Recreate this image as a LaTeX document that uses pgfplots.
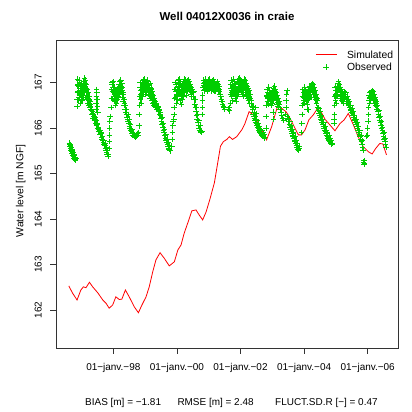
\documentclass[border=0pt]{standalone}
\usepackage{fontspec}
\setmainfont{Liberation Sans}
\usepackage{pgfplots}
\pgfplotsset{compat=1.18}
\definecolor{rgreen}{HTML}{00CD00}
\definecolor{rred}{HTML}{FF0000}
\pgfplotsset{
  obsimg/.style={legend image code/.code={\draw[mark repeat=2,mark phase=2,##1] plot coordinates {(0bp,0bp) (10.35bp,0bp) (20.7bp,0bp)};}},
  simimg/.style={legend image code/.code={\draw[##1] (0bp,0bp) -- (20.7bp,0bp);}},
  obs/.style={only marks, mark=+, mark size=2.8bp, rgreen, line width=0.7bp},
}
\begin{document}
\begin{tikzpicture}
\useasboundingbox (0,0) rectangle (412bp,412bp);
\begin{axis}[
  at={(56bp,64bp)}, anchor=south west,
  width=342bp, height=307.3bp, scale only axis,
  xmin=1996.198, xmax=2006.953, ymin=161.165, ymax=167.92,
  axis line style={line width=0.75bp, black!80},
  tick style={line width=0.75bp, black!80},
  tick align=outside, major tick length=6bp,
  xtick pos=left, ytick pos=left,
  xtick={1998,2000,2002,2004,2006},
  xticklabels={01−janv.−98,01−janv.−00,01−janv.−02,01−janv.−04,01−janv.−06},
  ytick={162,163,164,165,166,167},
  /pgf/number format/assume math mode=true,
  xticklabel style={font=\fontsize{10}{12}\selectfont, anchor=center, inner sep=0pt, yshift=-14bp},
  yticklabel style={font=\fontsize{10}{12}\selectfont, xshift=-8.1bp, rotate=90, anchor=south, inner sep=0pt},
  ylabel={Water level [m NGF]},
  every axis y label/.style={at={(axis description cs:-0.1032,0.511)}, rotate=90, anchor=center, font=\fontsize{10.3}{12}\selectfont},
  title={Well 04012X0036 in craie},
  every axis title/.style={at={(axis description cs:0.5,1.078)}, anchor=center, font=\bfseries\fontsize{11.5}{13}\selectfont},
  legend style={at={(axis description cs:0.9863,0.9684)}, anchor=north east, draw=none, fill=none,
    inner sep=0pt, row sep=5.3bp, column sep=10bp, font=\fontsize{10.4}{12}\selectfont,
    nodes={inner sep=0pt, text height=7.4bp, text depth=0pt}},
  legend cell align=left,
  reverse legend,
  clip=true,
]
\addplot[obs, obsimg]
  table[row sep=\\] {
x y\\
1996.62 165.67\\ 1996.63 165.60\\ 1996.64 165.64\\ 1996.65 165.56\\ 1996.66 165.61\\ 1996.67 165.52\\ 1996.68 165.57\\
1996.69 165.48\\ 1996.70 165.54\\ 1996.71 165.44\\ 1996.72 165.50\\ 1996.73 165.41\\ 1996.74 165.46\\ 1996.75 165.37\\
1996.76 165.43\\ 1996.77 165.34\\ 1996.78 165.40\\ 1996.79 165.32\\ 1996.80 165.36\\ 1996.81 165.30\\ 1996.82 165.33\\
1996.86 166.47\\ 1996.865 166.62\\ 1996.87 166.78\\ 1996.875 166.93\\ 1996.88 167.08\\
1996.89 166.95\\ 1996.905 166.62\\ 1996.92 167.05\\ 1996.935 166.75\\ 1996.95 166.88\\ 1996.965 166.55\\ 1996.98 166.98\\
1996.995 166.70\\ 1997.01 166.82\\ 1997.025 166.60\\ 1997.04 166.92\\ 1997.055 166.68\\ 1997.07 167.02\\ 1997.085 166.78\\
1997.10 167.10\\ 1997.115 166.85\\ 1997.13 167.05\\ 1997.145 166.72\\ 1997.16 166.95\\ 1997.175 166.62\\ 1997.19 166.85\\
1997.205 166.55\\ 1997.22 166.78\\ 1997.235 166.50\\ 1997.25 166.70\\ 1997.265 166.45\\ 1997.28 166.58\\ 1997.295 166.40\\
1997.31 166.38\\ 1997.33 166.30\\ 1997.35 166.33\\ 1997.37 166.22\\ 1997.39 166.26\\ 1997.41 166.16\\ 1997.43 166.20\\
1997.46 166.40\\ 1997.465 166.55\\ 1997.47 166.70\\ 1997.475 166.85\\ 1997.48 166.78\\ 1997.49 166.62\\ 1997.50 166.48\\ 1997.51 166.35\\
1997.45 166.10\\ 1997.47 166.05\\ 1997.49 166.08\\ 1997.51 166.00\\ 1997.53 165.97\\ 1997.55 165.92\\ 1997.57 165.95\\
1997.59 165.86\\ 1997.61 165.88\\ 1997.63 165.80\\ 1997.65 165.76\\ 1997.67 165.72\\ 1997.69 165.68\\ 1997.71 165.64\\
1997.73 165.62\\ 1997.75 165.55\\ 1997.77 165.52\\ 1997.79 165.46\\ 1997.81 165.42\\ 1997.83 165.38\\ 1997.85 165.42\\
1997.87 165.55\\ 1997.875 165.70\\ 1997.88 165.85\\ 1997.885 166.00\\ 1997.89 166.15\\ 1997.895 166.25\\
1997.93 166.45\\ 1997.94 166.65\\ 1997.95 166.85\\ 1997.955 167.00\\
1997.965 166.95\\ 1997.98 166.65\\ 1997.995 167.02\\ 1998.01 166.78\\ 1998.025 166.90\\ 1998.04 166.58\\ 1998.055 166.82\\
1998.07 166.50\\ 1998.085 166.72\\ 1998.10 166.55\\ 1998.115 166.80\\ 1998.13 166.62\\ 1998.145 166.88\\ 1998.16 166.70\\
1998.175 166.95\\ 1998.19 166.75\\ 1998.205 167.02\\ 1998.22 166.82\\ 1998.235 167.05\\ 1998.25 166.78\\ 1998.265 166.98\\
1998.28 166.68\\ 1998.295 166.90\\ 1998.31 166.58\\ 1998.325 166.78\\ 1998.34 166.50\\ 1998.355 166.62\\
1998.37 166.42\\ 1998.39 166.35\\ 1998.41 166.30\\ 1998.43 166.24\\ 1998.45 166.20\\ 1998.47 166.14\\ 1998.49 166.10\\
1998.51 166.04\\ 1998.53 166.00\\ 1998.55 165.95\\ 1998.57 165.92\\ 1998.59 165.88\\
1998.61 165.84\\ 1998.63 165.88\\ 1998.65 165.82\\ 1998.67 165.86\\ 1998.69 165.80\\ 1998.71 165.85\\ 1998.73 165.82\\
1998.75 165.88\\ 1998.77 165.84\\ 1998.79 165.90\\
1998.81 166.05\\ 1998.815 166.30\\ 1998.82 166.50\\ 1998.83 166.70\\ 1998.835 166.90\\
1998.845 167.00\\ 1998.86 166.62\\ 1998.875 166.90\\ 1998.89 166.55\\ 1998.905 166.85\\ 1998.92 166.70\\ 1998.935 167.05\\
1998.95 166.80\\ 1998.965 167.08\\ 1998.98 166.88\\ 1998.995 167.02\\ 1999.01 166.75\\ 1999.025 166.98\\ 1999.04 166.82\\
1999.055 167.05\\ 1999.07 166.90\\ 1999.085 167.02\\ 1999.10 166.78\\ 1999.115 166.95\\ 1999.13 166.72\\ 1999.145 166.90\\
1999.16 166.65\\ 1999.175 166.98\\ 1999.19 166.70\\ 1999.205 166.88\\ 1999.22 166.60\\ 1999.235 166.80\\ 1999.25 166.55\\
1999.265 166.72\\ 1999.28 166.50\\ 1999.295 166.65\\ 1999.31 166.48\\ 1999.325 166.58\\ 1999.34 166.45\\
1999.36 166.50\\ 1999.38 166.42\\ 1999.40 166.45\\ 1999.42 166.36\\ 1999.44 166.38\\ 1999.46 166.30\\ 1999.48 166.28\\
1999.50 166.22\\ 1999.52 166.15\\ 1999.54 166.08\\ 1999.56 166.02\\ 1999.58 165.95\\ 1999.60 165.90\\ 1999.62 165.84\\
1999.64 165.78\\ 1999.66 165.74\\ 1999.68 165.68\\ 1999.70 165.64\\ 1999.72 165.60\\ 1999.74 165.56\\ 1999.76 165.54\\
1999.78 165.51\\ 1999.80 165.50\\
1999.84 165.60\\ 1999.85 165.75\\ 1999.86 165.90\\ 1999.87 166.05\\ 1999.875 166.15\\
1999.90 166.20\\ 1999.91 166.30\\ 1999.915 166.45\\ 1999.92 166.65\\ 1999.93 166.85\\
1999.945 167.00\\ 1999.96 166.68\\ 1999.975 166.95\\ 1999.99 166.55\\ 2000.005 166.85\\ 2000.02 166.62\\ 2000.035 167.05\\
2000.05 166.75\\ 2000.065 167.08\\ 2000.08 166.82\\ 2000.095 166.98\\ 2000.11 166.60\\ 2000.125 166.90\\ 2000.14 166.52\\
2000.155 166.80\\ 2000.17 166.62\\ 2000.185 166.95\\ 2000.20 166.70\\ 2000.215 167.02\\ 2000.23 166.78\\ 2000.245 167.08\\
2000.26 166.85\\ 2000.275 167.05\\ 2000.29 166.72\\ 2000.305 166.98\\ 2000.32 166.80\\ 2000.335 167.04\\ 2000.35 166.88\\
2000.365 167.06\\ 2000.38 166.90\\ 2000.395 167.02\\ 2000.41 166.82\\ 2000.425 166.95\\ 2000.44 166.75\\ 2000.455 166.90\\
2000.47 166.70\\ 2000.485 166.85\\
2000.50 166.78\\ 2000.52 166.70\\ 2000.54 166.62\\ 2000.56 166.52\\ 2000.58 166.45\\ 2000.60 166.36\\ 2000.62 166.28\\
2000.64 166.20\\ 2000.66 166.12\\ 2000.68 166.06\\ 2000.70 166.00\\ 2000.72 165.95\\ 2000.74 165.92\\ 2000.76 165.90\\ 2000.78 165.93\\
2000.80 166.30\\ 2000.80 166.45\\ 2000.805 166.60\\ 2000.81 166.72\\
2000.83 166.90\\ 2000.845 167.05\\ 2000.86 166.82\\ 2000.875 167.00\\ 2000.89 166.85\\ 2000.905 167.08\\ 2000.92 166.90\\
2000.935 167.02\\ 2000.95 166.80\\ 2000.965 166.98\\ 2000.98 166.85\\ 2000.995 167.05\\ 2001.01 166.88\\ 2001.025 167.08\\
2001.04 166.92\\ 2001.055 167.00\\ 2001.07 166.82\\ 2001.085 166.98\\ 2001.10 166.86\\ 2001.115 167.04\\ 2001.13 166.90\\
2001.145 167.06\\ 2001.16 166.84\\ 2001.175 167.00\\ 2001.19 166.80\\ 2001.205 166.95\\ 2001.22 166.82\\ 2001.235 166.98\\
2001.25 166.85\\ 2001.265 167.02\\ 2001.28 166.88\\ 2001.295 166.96\\ 2001.31 166.82\\ 2001.325 166.92\\ 2001.34 166.80\\
2001.36 166.75\\ 2001.38 166.70\\ 2001.40 166.62\\ 2001.42 166.58\\ 2001.44 166.52\\ 2001.46 166.48\\ 2001.48 166.45\\ 2001.50 166.42\\
2001.62 166.42\\ 2001.64 166.45\\ 2001.66 166.38\\
2001.68 166.55\\ 2001.685 166.75\\ 2001.69 166.95\\
2001.70 167.05\\ 2001.715 166.70\\ 2001.73 166.95\\ 2001.745 166.60\\ 2001.76 166.88\\ 2001.775 166.75\\ 2001.79 167.08\\
2001.805 166.82\\ 2001.82 167.02\\ 2001.835 166.65\\ 2001.85 166.92\\ 2001.865 166.58\\ 2001.88 166.85\\ 2001.895 166.70\\
2001.91 167.00\\ 2001.925 166.78\\ 2001.94 167.08\\ 2001.955 166.88\\ 2001.97 167.10\\ 2001.985 166.92\\ 2002.00 167.05\\
2002.015 166.80\\ 2002.03 167.02\\ 2002.045 166.75\\ 2002.06 166.98\\ 2002.075 166.70\\ 2002.09 166.95\\ 2002.105 166.82\\
2002.12 167.08\\ 2002.135 166.90\\ 2002.15 167.05\\ 2002.165 166.78\\ 2002.18 166.98\\ 2002.195 166.72\\ 2002.21 166.92\\
2002.225 166.65\\ 2002.24 166.88\\ 2002.255 166.60\\ 2002.27 166.82\\ 2002.285 166.55\\ 2002.30 166.75\\
2002.32 166.65\\ 2002.34 166.55\\ 2002.36 166.48\\ 2002.38 166.40\\ 2002.40 166.30\\ 2002.42 166.25\\ 2002.44 166.22\\
2002.46 166.18\\ 2002.48 166.12\\ 2002.50 166.10\\ 2002.52 166.06\\ 2002.54 166.02\\ 2002.56 166.00\\ 2002.58 165.96\\
2002.60 165.92\\ 2002.62 165.90\\ 2002.64 165.88\\ 2002.66 165.86\\ 2002.68 165.84\\ 2002.70 165.82\\ 2002.72 165.84\\
2002.74 165.80\\ 2002.76 165.78\\
2002.48 166.45\\ 2002.485 166.32\\ 2002.49 166.20\\
2002.80 166.00\\ 2002.805 166.25\\ 2002.81 166.50\\ 2002.82 166.70\\
2002.83 166.85\\ 2002.845 166.58\\ 2002.86 166.78\\ 2002.875 166.52\\ 2002.89 166.90\\ 2002.905 166.65\\ 2002.92 166.82\\
2002.935 166.55\\ 2002.95 166.75\\ 2002.965 166.50\\ 2002.98 166.70\\ 2002.995 166.55\\ 2003.01 166.80\\ 2003.025 166.62\\
2003.04 166.88\\ 2003.055 166.70\\ 2003.07 166.92\\ 2003.085 166.68\\ 2003.10 166.85\\ 2003.115 166.60\\ 2003.13 166.78\\
2003.145 166.52\\ 2003.16 166.72\\ 2003.175 166.48\\ 2003.19 166.65\\ 2003.205 166.45\\ 2003.22 166.58\\
2003.03 166.35\\ 2003.035 166.20\\
2003.24 166.42\\ 2003.27 166.35\\ 2003.30 166.28\\ 2003.33 166.22\\ 2003.36 166.18\\
2003.42 166.30\\ 2003.43 166.45\\ 2003.44 166.60\\ 2003.45 166.75\\ 2003.46 166.82\\
2003.48 166.25\\ 2003.50 166.20\\ 2003.52 166.14\\ 2003.54 166.08\\ 2003.56 166.02\\ 2003.58 165.97\\ 2003.60 165.93\\
2003.62 165.89\\ 2003.64 165.85\\ 2003.66 165.81\\ 2003.68 165.77\\ 2003.70 165.73\\ 2003.72 165.70\\ 2003.74 165.66\\
2003.76 165.62\\ 2003.78 165.58\\ 2003.80 165.54\\ 2003.82 165.52\\ 2003.84 165.56\\ 2003.86 165.60\\
2003.92 165.90\\ 2003.925 166.10\\ 2003.93 166.30\\ 2003.94 166.50\\ 2003.95 166.70\\
2003.96 166.85\\ 2003.975 166.55\\ 2003.99 166.78\\ 2004.005 166.60\\ 2004.02 166.90\\ 2004.035 166.68\\ 2004.05 166.82\\
2004.065 166.58\\ 2004.08 166.75\\ 2004.095 166.52\\ 2004.11 166.70\\ 2004.125 166.62\\ 2004.14 166.85\\ 2004.155 166.70\\
2004.17 166.92\\ 2004.185 166.75\\ 2004.20 166.88\\ 2004.215 166.68\\ 2004.23 166.95\\ 2004.245 166.80\\ 2004.26 166.98\\
2004.275 166.82\\ 2004.29 166.96\\ 2004.305 166.75\\ 2004.32 166.90\\ 2004.335 166.68\\ 2004.35 166.82\\ 2004.365 166.62\\
2004.38 166.75\\ 2004.395 166.55\\ 2004.41 166.65\\
2004.10 166.42\\ 2004.12 166.40\\
2004.43 166.45\\ 2004.45 166.38\\ 2004.47 166.33\\ 2004.49 166.28\\ 2004.51 166.24\\ 2004.53 166.20\\ 2004.55 166.16\\
2004.57 166.12\\ 2004.59 166.08\\ 2004.61 166.04\\ 2004.63 166.00\\ 2004.65 165.96\\ 2004.67 165.92\\ 2004.69 165.88\\
2004.71 165.85\\ 2004.73 165.82\\ 2004.75 165.78\\ 2004.77 165.76\\ 2004.79 165.73\\ 2004.81 165.70\\ 2004.83 165.68\\
2004.85 165.66\\ 2004.87 165.64\\ 2004.89 165.66\\
2004.94 166.20\\ 2004.945 166.10\\ 2004.95 166.30\\ 2004.96 166.50\\ 2004.965 166.70\\
2004.975 166.90\\ 2004.99 166.60\\ 2005.005 166.82\\ 2005.02 166.55\\ 2005.035 166.92\\ 2005.05 166.70\\ 2005.065 166.98\\
2005.08 167.02\\ 2005.095 166.85\\ 2005.11 166.95\\ 2005.125 166.72\\ 2005.14 166.90\\ 2005.155 166.65\\ 2005.17 166.85\\
2005.185 166.60\\ 2005.20 166.80\\ 2005.215 166.58\\ 2005.23 166.75\\ 2005.245 166.55\\
2005.26 166.80\\ 2005.28 166.74\\ 2005.30 166.70\\ 2005.32 166.65\\ 2005.34 166.62\\ 2005.36 166.58\\ 2005.38 166.55\\
2005.40 166.52\\ 2005.42 166.50\\ 2005.44 166.46\\ 2005.46 166.42\\ 2005.48 166.38\\ 2005.50 166.35\\ 2005.52 166.32\\
2005.54 166.28\\ 2005.56 166.24\\ 2005.58 166.20\\ 2005.60 166.16\\ 2005.62 166.12\\ 2005.64 166.08\\ 2005.66 166.04\\
2005.68 166.00\\ 2005.70 165.95\\ 2005.72 165.90\\ 2005.74 165.86\\ 2005.76 165.81\\ 2005.78 165.76\\ 2005.80 165.70\\
2005.82 165.64\\ 2005.84 165.58\\ 2005.86 165.52\\
2005.87 165.25\\ 2005.88 165.20\\ 2005.89 165.28\\ 2005.90 165.22\\
2005.96 165.82\\
2005.99 165.85\\ 2006.00 166.00\\ 2006.01 166.15\\ 2006.02 166.30\\ 2006.03 166.45\\ 2006.04 166.60\\
2006.05 166.72\\ 2006.065 166.55\\ 2006.08 166.78\\ 2006.095 166.60\\ 2006.11 166.80\\ 2006.125 166.65\\ 2006.14 166.82\\
2006.155 166.70\\ 2006.17 166.80\\ 2006.185 166.62\\ 2006.20 166.75\\ 2006.215 166.55\\ 2006.23 166.68\\ 2006.245 166.50\\ 2006.26 166.58\\
2006.28 166.48\\ 2006.30 166.42\\ 2006.32 166.36\\ 2006.34 166.30\\ 2006.36 166.24\\ 2006.38 166.18\\ 2006.40 166.12\\
2006.42 166.06\\ 2006.44 166.00\\ 2006.46 165.94\\ 2006.48 165.88\\ 2006.50 165.82\\ 2006.52 165.76\\ 2006.54 165.70\\
2006.56 165.64\\ 2006.58 165.58\\
};
\addlegendentry{Observed}
\addplot[obs, forget plot]
  table[row sep=\\] {
x y\\
1996.8975 166.80\\ 1996.9125 166.92\\ 1996.9275 166.68\\ 1996.9425 167.00\\ 1996.9575 166.72\\ 1996.9725 166.82\\ 1996.9875 166.60\\
1997.0025 166.95\\ 1997.0175 166.72\\ 1997.0325 166.85\\ 1997.0475 166.78\\ 1997.0625 166.90\\ 1997.0775 166.92\\ 1997.0925 166.95\\
1997.1075 166.98\\ 1997.1225 166.92\\ 1997.1375 166.88\\ 1997.1525 166.82\\ 1997.1675 166.78\\ 1997.1825 166.72\\ 1997.1975 166.70\\
1997.2125 166.65\\ 1997.2275 166.62\\ 1997.2425 166.60\\ 1997.2575 166.55\\ 1997.2725 166.52\\ 1997.2875 166.48\\
1997.9725 166.80\\ 1997.9875 166.90\\ 1998.0025 166.85\\ 1998.0175 166.65\\ 1998.0325 166.75\\ 1998.0475 166.70\\ 1998.0625 166.62\\
1998.0775 166.60\\ 1998.0925 166.65\\ 1998.1075 166.68\\ 1998.1225 166.70\\ 1998.1375 166.75\\ 1998.1525 166.80\\ 1998.1675 166.85\\
1998.1825 166.88\\ 1998.1975 166.90\\ 1998.2125 166.92\\ 1998.2275 166.95\\ 1998.2425 166.92\\ 1998.2575 166.88\\ 1998.2725 166.82\\
1998.2875 166.78\\ 1998.3025 166.75\\ 1998.3175 166.68\\ 1998.3325 166.62\\ 1998.3475 166.55\\
1998.8525 166.82\\ 1998.8675 166.75\\ 1998.8825 166.72\\ 1998.8975 166.70\\ 1998.9125 166.78\\ 1998.9275 166.88\\ 1998.9425 166.92\\
1998.9575 166.95\\ 1998.9725 166.98\\ 1998.9875 166.95\\ 1999.0025 166.90\\ 1999.0175 166.88\\ 1999.0325 166.92\\ 1999.0475 166.95\\
1999.0625 166.98\\ 1999.0775 166.96\\ 1999.0925 166.90\\ 1999.1075 166.86\\ 1999.1225 166.84\\ 1999.1375 166.80\\ 1999.1525 166.78\\
1999.1675 166.82\\ 1999.1825 166.84\\ 1999.1975 166.78\\ 1999.2125 166.74\\ 1999.2275 166.70\\ 1999.2425 166.66\\ 1999.2575 166.62\\
1999.2725 166.60\\ 1999.2875 166.56\\ 1999.3025 166.55\\ 1999.3175 166.52\\ 1999.3325 166.50\\
1999.9525 166.85\\ 1999.9675 166.80\\ 1999.9825 166.75\\ 1999.9975 166.70\\ 2000.0125 166.72\\ 2000.0275 166.85\\ 2000.0425 166.92\\
2000.0575 166.95\\ 2000.0725 166.96\\ 2000.0875 166.90\\ 2000.1025 166.80\\ 2000.1175 166.75\\ 2000.1325 166.70\\ 2000.1475 166.66\\
2000.1625 166.70\\ 2000.1775 166.80\\ 2000.1925 166.85\\ 2000.2075 166.88\\ 2000.2225 166.92\\ 2000.2375 166.95\\ 2000.2525 166.98\\
2000.2675 166.95\\ 2000.2825 166.90\\ 2000.2975 166.85\\ 2000.3125 166.90\\ 2000.3275 166.94\\ 2000.3425 166.96\\ 2000.3575 166.98\\
2000.3725 166.96\\ 2000.3875 166.95\\ 2000.4025 166.92\\ 2000.4175 166.88\\ 2000.4325 166.85\\ 2000.4475 166.82\\ 2000.4625 166.80\\ 2000.4775 166.78\\
2000.8375 166.98\\ 2000.8525 166.94\\ 2000.8675 166.92\\ 2000.8825 166.94\\ 2000.8975 166.96\\ 2000.9125 166.98\\ 2000.9275 166.95\\
2000.9425 166.92\\ 2000.9575 166.90\\ 2000.9725 166.92\\ 2000.9875 166.95\\ 2001.0025 166.98\\ 2001.0175 166.98\\ 2001.0325 167.00\\
2001.0475 166.96\\ 2001.0625 166.92\\ 2001.0775 166.90\\ 2001.0925 166.92\\ 2001.1075 166.95\\ 2001.1225 166.98\\ 2001.1375 166.98\\
2001.1525 166.95\\ 2001.1675 166.92\\ 2001.1825 166.90\\ 2001.1975 166.88\\ 2001.2125 166.90\\ 2001.2275 166.92\\ 2001.2425 166.93\\
2001.2575 166.94\\ 2001.2725 166.95\\ 2001.2875 166.92\\ 2001.3025 166.88\\ 2001.3175 166.86\\ 2001.3325 166.84\\
2001.7075 166.88\\ 2001.7225 166.82\\ 2001.7375 166.78\\ 2001.7525 166.74\\ 2001.7675 166.82\\ 2001.7825 166.92\\ 2001.7975 166.95\\
2001.8125 166.92\\ 2001.8275 166.85\\ 2001.8425 166.78\\ 2001.8575 166.75\\ 2001.8725 166.72\\ 2001.8875 166.78\\ 2001.9025 166.85\\
2001.9175 166.90\\ 2001.9325 166.92\\ 2001.9475 166.98\\ 2001.9625 167.00\\ 2001.9775 167.02\\ 2001.9925 166.98\\ 2002.0075 166.92\\
2002.0225 166.90\\ 2002.0375 166.88\\ 2002.0525 166.85\\ 2002.0675 166.84\\ 2002.0825 166.82\\ 2002.0975 166.88\\ 2002.1125 166.95\\
2002.1275 166.98\\ 2002.1425 166.96\\ 2002.1575 166.92\\ 2002.1725 166.88\\ 2002.1875 166.85\\ 2002.2025 166.82\\ 2002.2175 166.78\\
2002.2325 166.75\\ 2002.2475 166.74\\ 2002.2625 166.70\\ 2002.2775 166.68\\ 2002.2925 166.65\\
2002.8375 166.72\\ 2002.8525 166.68\\ 2002.8675 166.65\\ 2002.8825 166.72\\ 2002.8975 166.78\\ 2002.9125 166.74\\ 2002.9275 166.68\\
2002.9425 166.65\\ 2002.9575 166.62\\ 2002.9725 166.60\\ 2002.9875 166.62\\ 2003.0025 166.68\\ 2003.0175 166.72\\ 2003.0325 166.75\\
2003.0475 166.80\\ 2003.0625 166.82\\ 2003.0775 166.80\\ 2003.0925 166.76\\ 2003.1075 166.72\\ 2003.1225 166.70\\ 2003.1375 166.65\\
2003.1525 166.62\\ 2003.1675 166.60\\ 2003.1825 166.56\\ 2003.1975 166.54\\ 2003.2125 166.52\\
2003.9675 166.70\\ 2003.9825 166.68\\ 2003.9975 166.70\\ 2004.0125 166.75\\ 2004.0275 166.80\\ 2004.0425 166.75\\ 2004.0575 166.70\\
2004.0725 166.66\\ 2004.0875 166.64\\ 2004.1025 166.60\\ 2004.1175 166.66\\ 2004.1325 166.74\\ 2004.1475 166.78\\ 2004.1625 166.82\\
2004.1775 166.85\\ 2004.1925 166.82\\ 2004.2075 166.80\\ 2004.2225 166.84\\ 2004.2375 166.88\\ 2004.2525 166.90\\ 2004.2675 166.90\\
2004.2825 166.88\\ 2004.2975 166.85\\ 2004.3125 166.82\\ 2004.3275 166.78\\ 2004.3425 166.75\\ 2004.3575 166.72\\ 2004.3725 166.68\\
2004.3875 166.65\\ 2004.4025 166.60\\
2004.9825 166.75\\ 2004.9975 166.72\\ 2005.0125 166.70\\ 2005.0275 166.75\\ 2005.0425 166.82\\ 2005.0575 166.85\\ 2005.0725 166.90\\
2005.0875 166.92\\ 2005.1025 166.90\\ 2005.1175 166.84\\ 2005.1325 166.80\\ 2005.1475 166.78\\ 2005.1625 166.75\\ 2005.1775 166.72\\
2005.1925 166.70\\ 2005.2075 166.68\\ 2005.2225 166.66\\ 2005.2375 166.64\\
2006.0575 166.65\\ 2006.0725 166.68\\ 2006.0875 166.70\\ 2006.1025 166.72\\ 2006.1175 166.74\\ 2006.1325 166.75\\ 2006.1475 166.76\\
2006.1625 166.74\\ 2006.1775 166.70\\ 2006.1925 166.68\\ 2006.2075 166.65\\ 2006.2225 166.62\\ 2006.2375 166.60\\ 2006.2525 166.55\\
1997.34 166.36\\ 1997.38 166.30\\ 1997.42 166.24\\ 1997.46 166.16\\ 1997.50 166.10\\ 1997.54 166.02\\ 1997.58 165.96\\
1997.62 165.90\\ 1997.66 165.82\\ 1997.70 165.74\\ 1997.74 165.66\\ 1997.78 165.58\\ 1997.82 165.50\\
1998.38 166.50\\ 1998.42 166.40\\ 1998.46 166.30\\ 1998.50 166.20\\ 1998.54 166.08\\ 1998.58 165.98\\
1999.41 166.48\\ 1999.45 166.42\\ 1999.49 166.34\\ 1999.53 166.24\\ 1999.57 166.10\\ 1999.61 165.98\\ 1999.65 165.86\\
1999.69 165.76\\ 1999.73 165.68\\ 1999.77 165.62\\
2000.53 166.80\\ 2000.57 166.62\\ 2000.61 166.46\\ 2000.65 166.30\\ 2000.69 166.16\\ 2000.73 166.05\\
2002.35 166.60\\ 2002.39 166.46\\ 2002.43 166.34\\ 2002.47 166.26\\ 2002.51 166.18\\ 2002.55 166.10\\ 2002.59 166.04\\
2002.63 165.98\\ 2002.67 165.94\\ 2002.71 165.90\\ 2002.75 165.86\\
2003.51 166.22\\ 2003.55 166.14\\ 2003.59 166.06\\ 2003.63 165.98\\ 2003.67 165.90\\ 2003.71 165.82\\ 2003.75 165.74\\ 2003.79 165.66\\
2004.46 166.44\\ 2004.50 166.36\\ 2004.54 166.28\\ 2004.58 166.20\\ 2004.62 166.12\\ 2004.66 166.04\\ 2004.70 165.96\\
2004.74 165.90\\ 2004.78 165.84\\ 2004.82 165.78\\ 2004.86 165.72\\
2005.31 166.78\\ 2005.35 166.70\\ 2005.39 166.64\\ 2005.43 166.58\\ 2005.47 166.50\\ 2005.51 166.44\\ 2005.55 166.36\\
2005.59 166.28\\ 2005.63 166.20\\ 2005.67 166.12\\ 2005.71 166.04\\ 2005.75 165.94\\ 2005.79 165.84\\ 2005.83 165.72\\
2006.31 166.50\\ 2006.35 166.38\\ 2006.39 166.26\\ 2006.43 166.14\\ 2006.47 166.02\\ 2006.51 165.90\\ 2006.55 165.78\\
};
\addplot[rred, line width=0.8bp, simimg]
  table[row sep=\\] {
x y\\
1996.60 162.53\\ 1996.72 162.37\\ 1996.86 162.22\\ 1996.98 162.44\\ 1997.06 162.51\\ 1997.14 162.49\\ 1997.25 162.61\\
1997.35 162.51\\ 1997.51 162.38\\ 1997.67 162.22\\ 1997.77 162.15\\ 1997.87 162.04\\ 1997.98 162.11\\ 1998.08 162.29\\
1998.19 162.23\\ 1998.27 162.24\\ 1998.38 162.44\\ 1998.50 162.29\\ 1998.66 162.07\\ 1998.79 161.94\\ 1998.90 162.11\\
1999.03 162.29\\ 1999.13 162.51\\ 1999.24 162.84\\ 1999.34 163.10\\ 1999.47 163.26\\ 1999.60 163.14\\ 1999.76 162.97\\
1999.92 163.06\\ 2000.03 163.32\\ 2000.13 163.43\\ 2000.23 163.69\\ 2000.34 163.91\\ 2000.47 164.18\\ 2000.60 164.20\\
2000.70 164.09\\ 2000.81 163.98\\ 2000.92 164.16\\ 2001.04 164.44\\ 2001.18 164.80\\ 2001.28 165.22\\ 2001.37 165.60\\
2001.46 165.70\\ 2001.57 165.75\\ 2001.65 165.81\\ 2001.75 165.75\\ 2001.88 165.81\\ 2002.04 165.96\\ 2002.14 166.10\\
2002.27 166.36\\ 2002.40 166.29\\ 2002.53 166.14\\ 2002.67 165.96\\ 2002.82 165.74\\ 2002.98 166.03\\ 2003.16 166.47\\
2003.30 166.43\\ 2003.43 166.36\\ 2003.50 166.29\\ 2003.66 166.07\\ 2003.82 165.85\\ 2003.92 165.85\\ 2004.03 165.96\\
2004.15 166.18\\ 2004.29 166.29\\ 2004.42 166.43\\ 2004.53 166.36\\ 2004.66 166.19\\ 2004.81 166.07\\ 2004.97 165.94\\
2005.13 166.10\\ 2005.26 166.18\\ 2005.39 166.32\\ 2005.55 166.07\\ 2005.70 165.81\\ 2005.86 165.59\\ 2006.02 165.48\\
2006.14 165.43\\ 2006.25 165.55\\ 2006.38 165.66\\ 2006.48 165.65\\ 2006.59 165.41\\
};
\addlegendentry{Simulated}
\end{axis}
\node[anchor=west, inner sep=0pt, font=\fontsize{10}{12}\selectfont] at (85bp,9bp) {BIAS [m] = −1.81};
\node[anchor=west, inner sep=0pt, font=\fontsize{10}{12}\selectfont] at (177.3bp,9bp) {RMSE [m] = 2.48};
\node[anchor=west, inner sep=0pt, font=\fontsize{10}{12}\selectfont] at (275bp,9bp) {FLUCT.SD.R [−] = 0.47};
\end{tikzpicture}
\end{document}
